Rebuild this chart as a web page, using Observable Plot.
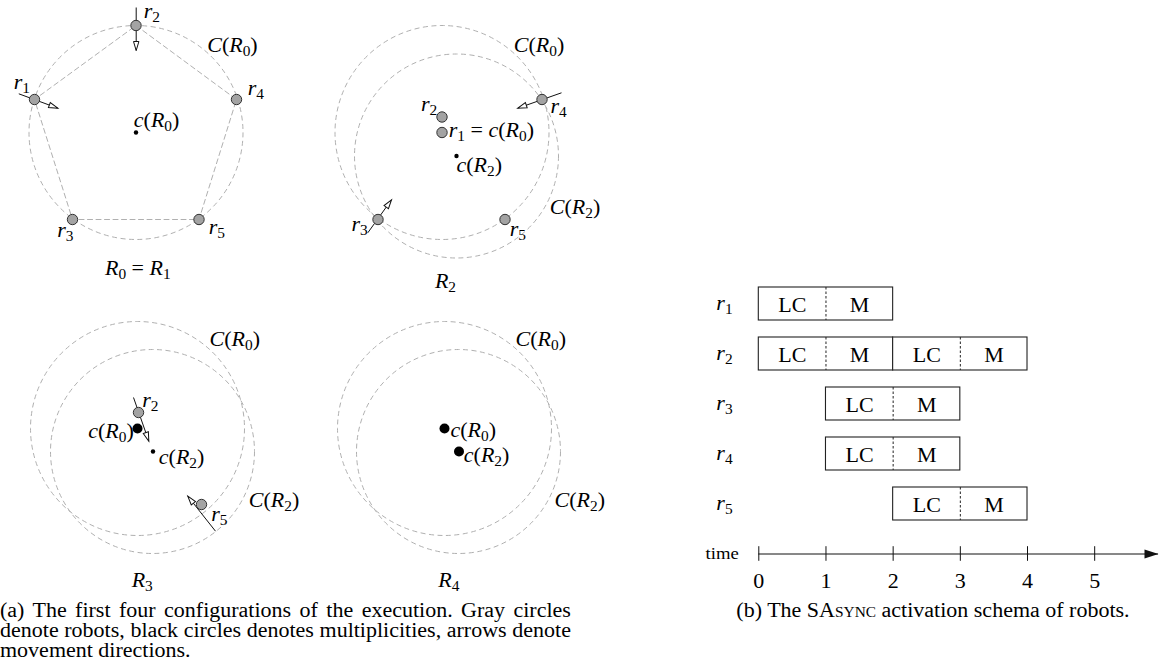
<!DOCTYPE html>
<html><head><meta charset="utf-8">
<script src="https://cdn.jsdelivr.net/npm/d3@7"></script>
<script src="https://cdn.jsdelivr.net/npm/@observablehq/plot@0.6"></script>
<style>
html,body{margin:0;padding:0;background:#fff;}
#root{position:relative;width:1159px;height:669px;overflow:hidden;font-family:"Liberation Serif","Times New Roman",serif;color:#000;}
#figA{position:absolute;left:0;top:0;}
#figB{position:absolute;left:690px;top:250px;}
.cap{position:absolute;font-size:20px;line-height:20.2px;}
#capA{left:0;top:600px;width:519px;transform:scaleX(1.1);transform-origin:0 0;}
#capA .j{text-align:justify;text-align-last:justify;}
#capB{left:700px;top:600px;width:466px;text-align:center;white-space:nowrap;transform:scaleX(1.1);transform-origin:50% 0;}
.sc{font-variant:small-caps;}
</style></head>
<body>
<div id="root">
  <div id="figA"></div>
  <div id="figB"></div>
  <div id="capA" class="cap">
    <div class="j">(a) The first four configurations of the execution. Gray circles</div>
    <div class="j">denote robots, black circles denotes multiplicities, arrows denote</div>
    <div>movement directions.</div>
  </div>
  <div id="capB" class="cap">(b) The SA<span class="sc">sync</span> activation schema of robots.</div>
</div>
<script>
// ---------- (a) configurations: diagram coordinates (y grows downward) ----------
const robotConfig = ["R0","R0","R0","R0","R0","R2","R2","R2","R2","R2","R3","R3"];
const robotName   = ["r1","r2","r3","r4","r5","r1","r2","r3","r4","r5","r2","r5"];
const robotX      = [34, 135.5, 72, 236, 198.5, 441.5, 441.5, 377.5, 541.5, 504.5, 138, 201];
const robotY      = [99, 25, 219, 99, 219, 132, 116.5, 219, 99, 219, 412, 504];

const pentagonOrder = ["r2","r4","r5","r3","r1","r2"];

const circleName = ["C(R0)","C(R0)","C(R2)","C(R0)","C(R2)","C(R0)","C(R2)"];
const circleX    = [135.5, 441.5, 456, 137, 152, 444, 458];
const circleY    = [132, 132, 155.5, 428, 451, 428, 451];
const circleR    = [107, 107, 102, 107, 102, 107, 102];

const centerName = ["c(R0)","c(R2)","c(R0)","c(R2)","c(R0)","c(R2)"];
const centerX    = [135.5, 456, 137, 152.5, 444, 458.5];
const centerY    = [132, 155.5, 428, 451, 428, 451];
const centerMult = [false, false, true, false, true, true];

const arrowX1 = [135.7, 18.3, 561, 367.3, 133, 215];
const arrowY1 = [7, 93.3, 92.3, 232.3, 397, 530.7];
const arrowX2 = [135.7, 57.3, 517.3, 391, 148.3, 187.3];
const arrowY2 = [50, 107.7, 107.7, 199.3, 440.7, 495.7];

const labelText = ["r_2","C(R_0)","r_1","r_4","c(R_0)","r_3","r_5","R_0 = R_1",
  "C(R_0)","r_4","r_2","r_1 = c(R_0)","c(R_2)","C(R_2)","r_3","r_5","R_2",
  "C(R_0)","r_2","c(R_0)","c(R_2)","C(R_2)","r_5","R_3",
  "C(R_0)","c(R_0)","c(R_2)","C(R_2)","R_4"];
const labelX = [143.3,206.7,13.3,247.3,133.3,56.7,208.3,137.3,
  513.3,550,436.7,448.3,456,549.3,367.3,509.3,445,
  209,141.7,133.3,158.3,248.3,210.7,141.7,
  515,450,463.3,554,448.3];
const labelY = [17,51,88,94,126,236.7,233.3,274,
  51.7,112.7,110.7,136.7,171.7,213.3,230,235,287.3,
  345,406.7,437.7,463.3,506.7,520.7,586.7,
  345,436.7,461.7,506,586.7];
const labelAnchor = ["start","start","start","start","start","start","start","middle",
  "start","start","end","start","start","start","end","start","middle",
  "start","start","end","start","start","start","middle",
  "start","start","start","start","middle"];

// ---------- (b) SAsync activation schema ----------
const robots     = ["r_1","r_2","r_3","r_4","r_5"];
const phaseRobot = ["r_1","r_1","r_2","r_2","r_2","r_2","r_3","r_3","r_4","r_4","r_5","r_5"];
const phaseName  = ["LC","M","LC","M","LC","M","LC","M","LC","M","LC","M"];
const phaseStart = [0,1,0,1,2,3,1,2,1,2,2,3];
const phaseEnd   = [1,2,1,2,3,4,2,3,2,3,3,4];
const timeTicks  = [0,1,2,3,4,5];
const timeMax    = 5.95;

// ---------- build tables ----------
const robotsA = robotName.map((name,i)=>({name, config: robotConfig[i], x: robotX[i], y: robotY[i]}));
const pentagon = pentagonOrder.map(n => robotsA.find(d => d.config === "R0" && d.name === n));
const circles = circleName.map((name,i)=>({name, x: circleX[i], y: circleY[i], r: circleR[i]}));
const centers = centerName.map((name,i)=>({name, x: centerX[i], y: centerY[i], mult: centerMult[i]}));
const arrows = arrowX1.map((x1,i)=>({x1, y1: arrowY1[i], x2: arrowX2[i], y2: arrowY2[i]}));
const labels = labelText.map((text,i)=>({text, x: labelX[i], y: labelY[i], anchor: labelAnchor[i]}));

const phases = phaseName.map((name,i)=>({name, robot: phaseRobot[i], start: phaseStart[i], end: phaseEnd[i]}));
const cycles = phases.filter(p => p.name === "LC").map(p => {
  const m = phases.find(q => q.robot === p.robot && q.name === "M" && q.start === p.end);
  return {robot: p.robot, start: p.start, split: p.end, end: m.end};
});

const openHead = {draw(ctx){ ctx.moveTo(0,0); ctx.lineTo(2.7,9); ctx.lineTo(-2.7,9); ctx.closePath(); }};
const filledHead = {draw(ctx){ ctx.moveTo(0,0); ctx.lineTo(4.5,14); ctx.lineTo(-4.5,14); ctx.closePath(); }};

const FONT = '"Liberation Serif","Times New Roman",serif';
const dashGray = "#b0b0b0";

const labelMark = (anchor) => Plot.text(labels.filter(d => d.anchor === anchor), {
  x: "x", y: "y", text: "text", textAnchor: anchor, lineAnchor: "bottom", fontSize: 20, fill: "#000"
});

const figA = Plot.plot({
  width: 620, height: 600, margin: 0,
  x: {domain: [0, 620], range: [0, 620], axis: null},
  y: {domain: [0, 600], range: [0, 600], axis: null},
  r: {type: "linear", domain: [0, 620], range: [0, 620]},
  style: {fontFamily: FONT, background: "transparent", overflow: "visible"},
  marks: [
    Plot.dot(circles, {x: "x", y: "y", r: "r", fill: "none", stroke: dashGray, strokeWidth: 1, strokeDasharray: "5,3.5"}),
    Plot.line(pentagon, {x: "x", y: "y", stroke: dashGray, strokeWidth: 1, strokeDasharray: "5,3.5"}),
    Plot.link(arrows, {x1: "x1", y1: "y1", x2: "x2", y2: "y2", stroke: "#111", strokeWidth: 1}),
    Plot.dot(robotsA, {x: "x", y: "y", r: 5.2, fill: "#a3a3a3", stroke: "#333", strokeWidth: 1}),
    Plot.dot(arrows, {x: "x2", y: "y2", symbol: openHead,
      rotate: d => Math.atan2(d.x2 - d.x1, -(d.y2 - d.y1)) * 180 / Math.PI,
      fill: "white", stroke: "#111", strokeWidth: 1}),
    Plot.dot(centers, {filter: d => d.mult, x: "x", y: "y", r: 5, fill: "#000", stroke: "none"}),
    Plot.dot(centers, {filter: d => !d.mult, x: "x", y: "y", r: 2.2, fill: "#000", stroke: "none"}),
    labelMark("start"), labelMark("end"), labelMark("middle")
  ]
});

const figB = Plot.plot({
  width: 469, height: 360, marginLeft: 0, marginRight: 0, marginTop: 0, marginBottom: 0,
  x: {domain: [0, timeMax], range: [68.3, 468], axis: null},
  y: {type: "band", domain: [...robots, "time"], range: [18.24, 338], padding: 0.338, axis: null},
  style: {fontFamily: FONT, background: "transparent", overflow: "visible"},
  marks: [
    Plot.barX(cycles, {x1: "start", x2: "end", y: "robot", fill: "white", stroke: "#222", strokeWidth: 1.1}),
    Plot.tickX(cycles, {x: "split", y: "robot", stroke: "#222", strokeWidth: 1, strokeDasharray: "2.5,2"}),
    Plot.text(phases, {x: d => (d.start + d.end) / 2, y: "robot", text: "name", fontSize: 20, dy: 2, fill: "#000"}),
    Plot.text(robots, {y: d => d, text: d => d, frameAnchor: "left", dx: 34, textAnchor: "middle", fontSize: 20, fill: "#000"}),
    Plot.ruleY(["time"], {y: d => d, x1: 0, x2: timeMax, stroke: "#111", strokeWidth: 1}),
    Plot.tickX(timeTicks, {x: d => d, y: () => "time", insetTop: 9.2, insetBottom: 9.2, stroke: "#111", strokeWidth: 1}),
    Plot.dot(["time"], {x: () => timeMax, y: d => d, symbol: filledHead, rotate: 90, fill: "#111", stroke: "none"}),
    Plot.text(timeTicks, {x: d => d, y: () => "time", text: d => String(d), dy: 34, lineAnchor: "bottom", fontSize: 20, fill: "#000"}),
    Plot.text(["time"], {y: d => d, text: d => d, frameAnchor: "left", dx: 31.7, textAnchor: "middle", fontSize: 17, fill: "#000"})
  ]
});

document.getElementById("figA").appendChild(figA);
document.getElementById("figB").appendChild(figB);

// ---------- typeset math labels (italic letters, subscripts) and widen text ----------
const svgNS = "http://www.w3.org/2000/svg";
function mathify(el) {
  const s = el.textContent;
  if (!/[_()]/.test(s)) return;
  const fs = parseFloat(getComputedStyle(el).fontSize) || 20;
  const shift = 0.2 * fs;
  while (el.firstChild) el.removeChild(el.firstChild);
  el.style.whiteSpace = "pre";
  let lowered = false;
  for (let i = 0; i < s.length; i++) {
    let ch = s[i], sub = false;
    if (ch === "_") { sub = true; ch = s[++i]; }
    const t = document.createElementNS(svgNS, "tspan");
    t.textContent = ch;
    if (sub) {
      t.setAttribute("font-size", (0.7 * fs) + "px");
      if (!lowered) { t.setAttribute("dy", shift); lowered = true; }
    } else {
      if (lowered) { t.setAttribute("dy", -shift); lowered = false; }
      if (/[A-Za-z]/.test(ch)) t.setAttribute("font-style", "italic");
    }
    el.appendChild(t);
  }
}
function widen(svg, k) {
  svg.querySelectorAll("text").forEach(t => {
    mathify(t);
    let tr = t.getAttribute("transform") || "";
    const x = t.getAttribute("x");
    if (x !== null && x !== "" && !isNaN(+x)) { tr += ` translate(${x},0)`; t.setAttribute("x", 0); }
    t.setAttribute("transform", (tr + ` scale(${k},1)`).trim());
  });
}
widen(figA, 1.1);
widen(figB, 1.1);
</script>
</body></html>
